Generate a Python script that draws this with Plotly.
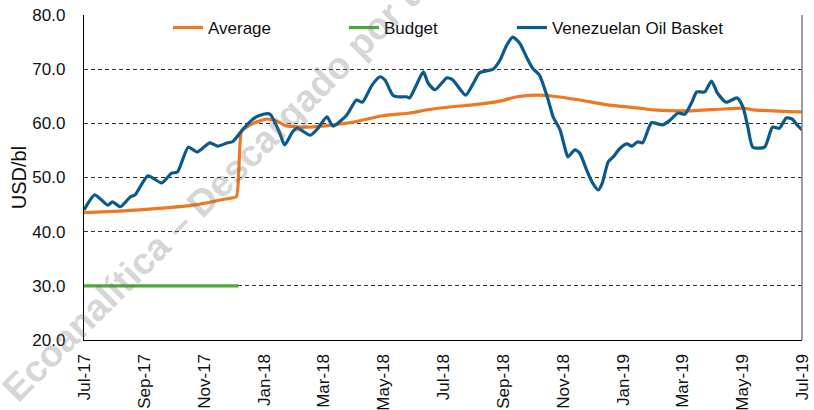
import plotly.graph_objects as go

# ---------------- data ----------------
basket_dates = [
    "2017-07-01", "2017-07-12", "2017-07-25", "2017-07-30", "2017-08-07", "2017-08-17",
    "2017-08-22", "2017-09-04", "2017-09-18", "2017-09-28", "2017-10-04", "2017-10-15",
    "2017-10-24", "2017-11-06", "2017-11-14", "2017-11-24", "2017-11-29", "2017-12-10",
    "2017-12-20", "2017-12-27", "2018-01-06", "2018-01-16", "2018-01-21", "2018-01-29",
    "2018-02-03", "2018-02-16", "2018-02-24", "2018-03-05", "2018-03-11", "2018-03-25",
    "2018-04-04", "2018-04-10", "2018-04-20", "2018-04-28", "2018-05-03", "2018-05-11",
    "2018-05-16", "2018-05-25", "2018-05-28", "2018-06-04", "2018-06-11", "2018-06-16",
    "2018-06-23", "2018-07-05", "2018-07-11", "2018-07-15", "2018-07-24", "2018-07-31",
    "2018-08-07", "2018-08-15", "2018-08-21", "2018-08-28", "2018-09-04", "2018-09-10",
    "2018-09-17", "2018-09-24", "2018-09-30", "2018-10-07", "2018-10-15", "2018-10-21",
    "2018-10-28", "2018-11-02", "2018-11-05", "2018-11-12", "2018-11-17", "2018-11-24",
    "2018-11-30", "2018-12-06", "2018-12-10", "2018-12-16", "2018-12-21", "2018-12-28",
    "2019-01-04", "2019-01-09", "2019-01-15", "2019-01-20", "2019-01-29", "2019-02-09",
    "2019-02-17", "2019-02-25", "2019-03-04", "2019-03-11", "2019-03-16", "2019-03-24",
    "2019-03-31", "2019-04-06", "2019-04-15", "2019-04-26", "2019-05-02", "2019-05-07",
    "2019-05-12", "2019-05-24", "2019-06-01", "2019-06-08", "2019-06-15", "2019-06-21",
    "2019-06-26", "2019-07-01",
]
basket_values = [
    44.0, 46.8, 44.9, 45.5, 44.6, 46.4,
    46.8, 50.3, 49.0, 50.8, 51.0, 55.6,
    54.7, 56.4, 55.8, 56.4, 56.6, 59.0,
    60.8, 61.5, 61.7, 58.2, 56.0, 58.4,
    59.1, 57.8, 59.1, 61.2, 59.5, 61.5,
    64.3, 63.9, 67.1, 68.6, 68.0, 65.2,
    64.9, 64.9, 64.7, 67.1, 69.5, 67.4,
    66.2, 68.4, 68.0, 67.1, 65.2, 67.1,
    69.3, 69.7, 70.0, 71.7, 74.5, 75.9,
    74.8, 72.2, 70.2, 68.9, 64.9, 61.2,
    58.8, 55.4, 53.8, 55.1, 54.5, 51.4,
    49.0, 47.7, 49.0, 52.9, 53.8, 55.4,
    56.2, 55.8, 56.6, 56.4, 60.1, 59.7,
    60.6, 61.9, 61.7, 63.9, 65.8, 65.8,
    67.8, 65.6, 63.9, 64.7, 63.0, 59.3,
    55.6, 55.6, 59.3, 59.1, 61.0, 60.8,
    59.7, 58.8,
]

average_dates = [
    "2017-07-01", "2017-08-06", "2017-09-15", "2017-10-24", "2017-11-18", "2017-12-03",
    "2017-12-08", "2017-12-20", "2018-01-03", "2018-01-13", "2018-01-23", "2018-02-16",
    "2018-03-11", "2018-03-31", "2018-05-01", "2018-05-28", "2018-06-15", "2018-07-18",
    "2018-07-31", "2018-08-28", "2018-09-14", "2018-10-04", "2018-10-21", "2018-11-17",
    "2018-12-15", "2019-01-17", "2019-01-30", "2019-03-06", "2019-04-08", "2019-05-02",
    "2019-05-12", "2019-07-01",
]
average_values = [
    43.5, 43.8, 44.3, 45.0, 45.9, 46.5,
    58.5, 60.0, 60.8, 60.4, 59.5, 59.3,
    59.7, 60.2, 61.4, 61.9, 62.5, 63.2,
    63.4, 64.1, 64.9, 65.2, 65.0, 64.3,
    63.4, 62.8, 62.5, 62.3, 62.6, 62.8,
    62.5, 62.1,
]

budget_dates = ["2017-07-01", "2017-12-05"]
budget_values = [30.0, 30.0]

tick_dates = [
    "2017-07-01", "2017-09-01", "2017-11-01", "2018-01-01", "2018-03-01", "2018-05-01",
    "2018-07-01", "2018-09-01", "2018-11-01", "2019-01-01", "2019-03-01", "2019-05-01",
    "2019-07-01",
]
tick_labels = [
    "Jul-17", "Sep-17", "Nov-17", "Jan-18", "Mar-18", "May-18", "Jul-18", "Sep-18",
    "Nov-18", "Jan-19", "Mar-19", "May-19", "Jul-19",
]
y_ticks = [20, 30, 40, 50, 60, 70, 80]

BLUE = "#0B5A8C"
ORANGE = "#EE7722"
GREEN = "#4EA73A"
FONT = "Liberation Sans, Arial, sans-serif"

fig = go.Figure()
fig.add_trace(go.Scatter(
    x=average_dates, y=average_values, name="Average", mode="lines",
    line=dict(color=ORANGE, width=3.2, shape="spline", smoothing=0.4),
    legend="legend",
))
fig.add_trace(go.Scatter(
    x=budget_dates, y=budget_values, name="Budget", mode="lines",
    line=dict(color=GREEN, width=3.2),
    legend="legend2",
))
fig.add_trace(go.Scatter(
    x=basket_dates, y=basket_values, name="Venezuelan Oil Basket", mode="lines",
    line=dict(color=BLUE, width=3.2, shape="spline", smoothing=0.6),
    legend="legend3",
))

leg_common = dict(
    orientation="h", yanchor="middle", y=0.96, xanchor="left",
    bgcolor="rgba(0,0,0,0)", borderwidth=0, itemwidth=30,
    font=dict(family=FONT, size=17, color="#111111"),
)
fig.update_layout(
    showlegend=True,
    legend=dict(x=0.117, **leg_common),
    legend2=dict(x=0.362, **leg_common),
    legend3=dict(x=0.596, **leg_common),
)

fig.update_xaxes(
    type="date",
    range=["2017-07-01", "2019-07-01"],
    tickvals=tick_dates, ticktext=tick_labels, tickangle=-90,
    tickfont=dict(family=FONT, size=17, color="#111111"),
    showgrid=False, showline=True, linecolor="#000000", linewidth=1.3,
    ticks="", ticklabelstandoff=6, zeroline=False,
)
fig.update_yaxes(
    range=[20, 80], tickvals=y_ticks, tickformat=".1f",
    tickfont=dict(family=FONT, size=17, color="#111111"),
    showgrid=True, gridcolor="#333333", gridwidth=1, griddash="4px,3px",
    showline=True, linecolor="#000000", linewidth=1.3,
    ticks="", ticklabelstandoff=14, zeroline=False,
    title=dict(text="USD/bl", font=dict(family=FONT, size=20, color="#111111"), standoff=0),
)

# right border of the plot area
fig.add_shape(type="line", xref="paper", yref="paper", x0=1, x1=1, y0=0, y1=1,
              line=dict(color="#7f7f7f", width=1.5))

# watermark
fig.add_annotation(
    text="<b>Ecoanalítica – Descargado por u</b>", xref="paper", yref="paper",
    x=0.180, y=0.462, xanchor="center", yanchor="middle", textangle=-45,
    showarrow=False, font=dict(family=FONT, size=37.5, color="rgba(110,110,110,0.30)"),
)

fig.update_layout(
    width=814, height=410,
    margin=dict(l=84, r=12, t=15, b=70, autoexpand=False),
    paper_bgcolor="white", plot_bgcolor="white",
    font=dict(family=FONT),
)

fig.write_html(
    "out.html",
    config={"displayModeBar": False},
    post_script="document.body.style.margin='0';document.body.style.padding='0';",
)
